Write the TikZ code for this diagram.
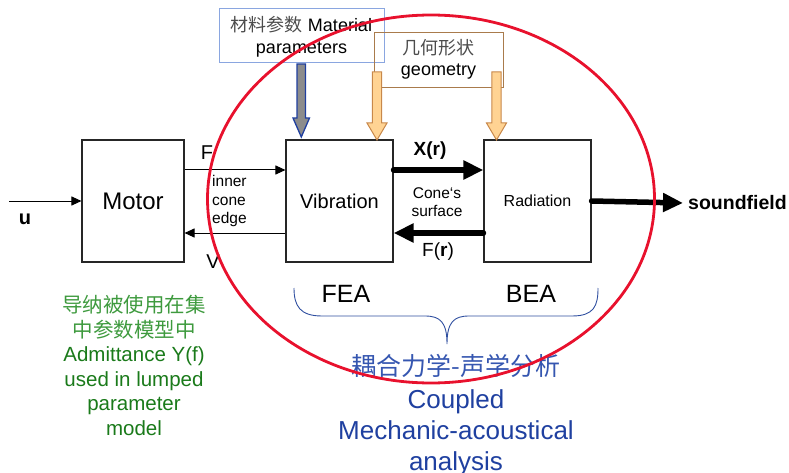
\documentclass[tikz,border=0pt]{standalone}
\usepackage{fontspec}
\setmainfont{Liberation Sans}
\newfontfamily\cjk{Noto Sans CJK SC}
\usetikzlibrary{arrows.meta}
\definecolor{ellred}{HTML}{E8112D}
\definecolor{matblue}{HTML}{8AA6E0}
\definecolor{geobrown}{HTML}{A97B4C}
\definecolor{arrblue}{HTML}{1F3F9F}
\definecolor{arrgrey}{HTML}{8C8C8C}
\definecolor{orfill}{HTML}{FFD393}
\definecolor{ordraw}{HTML}{C8884A}
\definecolor{grndark}{HTML}{1A7A1A}
\definecolor{grnlight}{HTML}{3E9A3E}
\definecolor{bluetxt}{HTML}{1F40A0}
\definecolor{bluecjk}{HTML}{3556B0}
\definecolor{bracecol}{HTML}{2F4FA0}
\newcommand{\fs}[1]{\fontsize{#1}{1.2\dimexpr #1pt\relax}\selectfont}
\tikzset{
  blk/.style={draw=black!85, line width=1.1pt, minimum width=107pt, minimum height=122pt, inner sep=0pt},
  thinarr/.style={line width=1pt, -{Triangle[length=10pt,width=9pt]}},
  thickarr/.style={line width=5.5pt, line cap=round, -{Triangle[length=20pt,width=18pt]}},
  lbl/.style={inner sep=0pt},
  topbox/.style={line width=0.9pt, inner sep=0pt, align=center},
}
\begin{document}
\begin{tikzpicture}[x=1pt,y=-1pt]
\useasboundingbox (0,0) rectangle (789,473);

% main blocks
\node[blk, minimum width=102pt, font=\fs{24}] (motor) at (133,201) {Motor};
\node[blk, font=\fs{20}] (vib) at (339.5,201) {Vibration};
\node[blk, font=\fs{16}] (rad) at (537.5,201) {Radiation};

% top boxes
\node[topbox, draw=matblue, minimum width=165pt, minimum height=54pt,
      font=\fs{18}, text depth=0pt] (mat) at (301.5,35)
      {\baselineskip=23pt{\color{black!70}\cjk 材料参数} Material\\parameters};
\node[topbox, draw=geobrown, minimum width=129pt, minimum height=55pt,
      font=\fs{18}] (geo) at (438.5,59.5)
      {\baselineskip=22pt{\color{black!70}\cjk 几何形状}\\geometry};

% block arrows
\draw[fill=arrgrey, draw=arrblue, line width=1.3pt]
  (297,64) -- (305.5,64) -- (305.5,118) -- (309.5,118) -- (301.3,137)
  -- (293,118) -- (297,118) -- cycle;
\draw[fill=orfill, draw=ordraw, line width=1pt]
  (372.3,72) -- (381.7,72) -- (381.7,123) -- (387,123) -- (377,140)
  -- (367,123) -- (372.3,123) -- cycle;
\draw[fill=orfill, draw=ordraw, line width=1pt]
  (491.8,72) -- (501.2,72) -- (501.2,123) -- (506.5,123) -- (496.5,140)
  -- (486.5,123) -- (491.8,123) -- cycle;

% input u
\coordinate (uin) at (9,201);
\draw[thinarr] (uin) -- (motor.west);
\node[lbl, font=\bfseries\fs{20}] (ulab) at (25,219) {u};

% motor <-> vibration
\draw[thinarr] ([yshift=31pt]motor.east) -- ([yshift=31pt]vib.west);
\draw[thinarr] ([yshift=-32pt]vib.west) -- ([yshift=-32pt]motor.east);
\node[lbl, font=\fs{20}] (Flab) at (207,153) {F};
\node[lbl, font=\fs{20}] (Vlab) at (213,262) {V};
\node[lbl, anchor=west, align=left, font=\fs{15.5}] (inner) at (212,201)
  {\baselineskip=19pt inner\\cone\\edge};

% vibration <-> radiation
\draw[thickarr] ([yshift=31pt]vib.east) -- ([yshift=31pt]rad.west);
\draw[thickarr] ([yshift=-32pt]rad.west) -- ([yshift=-32pt]vib.east);
\node[lbl, font=\bfseries\fs{19}] (Xlab) at (430,151) {X(r)};
\node[lbl, font=\fs{19}] (Frlab) at (438,252) {F(\textbf{r})};
\node[lbl, align=center, font=\fs{15.5}] (cone) at (437,202)
  {\baselineskip=19pt Cone‘s\\surface};

% soundfield
\node[lbl, anchor=west, font=\bfseries\fs{19.5}] (sf) at (688,203) {soundfield};
\draw[thickarr] (rad.east) -- ([xshift=-5pt]sf.west);

% FEA / BEA
\node[lbl, font=\fs{25}] (fea) at (346,294) {FEA};
\node[lbl, font=\fs{25}] (bea) at (531,294) {BEA};

% brace
\draw[bracecol, line width=0.9pt]
  (294,288) .. controls (294,306) and (300,316) .. (322,316) -- (425,316)
  .. controls (440,316) and (447,322) .. (447,344)
  .. controls (447,322) and (454,316) .. (469,316) -- (572,316)
  .. controls (594,316) and (598,306) .. (598,288);

% green text
\node[lbl, anchor=north, align=center, font=\fs{20.5}] (adm) at (134,295)
  {\baselineskip=25.8pt{\color{grnlight}\cjk 导纳被使用在集}\\
   {\color{grnlight}\cjk 中参数模型中}\\
   {\color{grndark}Admittance Y(f)}\\
   {\color{grndark}used in lumped}\\
   {\color{grndark}parameter}\\
   {\color{grndark}model}};

% blue text
\node[lbl, text=bluecjk, font=\cjk\fs{25}] (cpcjk) at (456,366) {耦合力学-声学分析};
\node[lbl, anchor=north, align=center, text=bluetxt, font=\fs{26}] (cpen) at (456,389)
  {\baselineskip=30pt Coupled\\Mechanic-acoustical\\analysis};

% red ellipse
\draw[ellred, line width=2.8pt] (431,199) ellipse [x radius=223.5pt, y radius=184pt];
\end{tikzpicture}
\end{document}
